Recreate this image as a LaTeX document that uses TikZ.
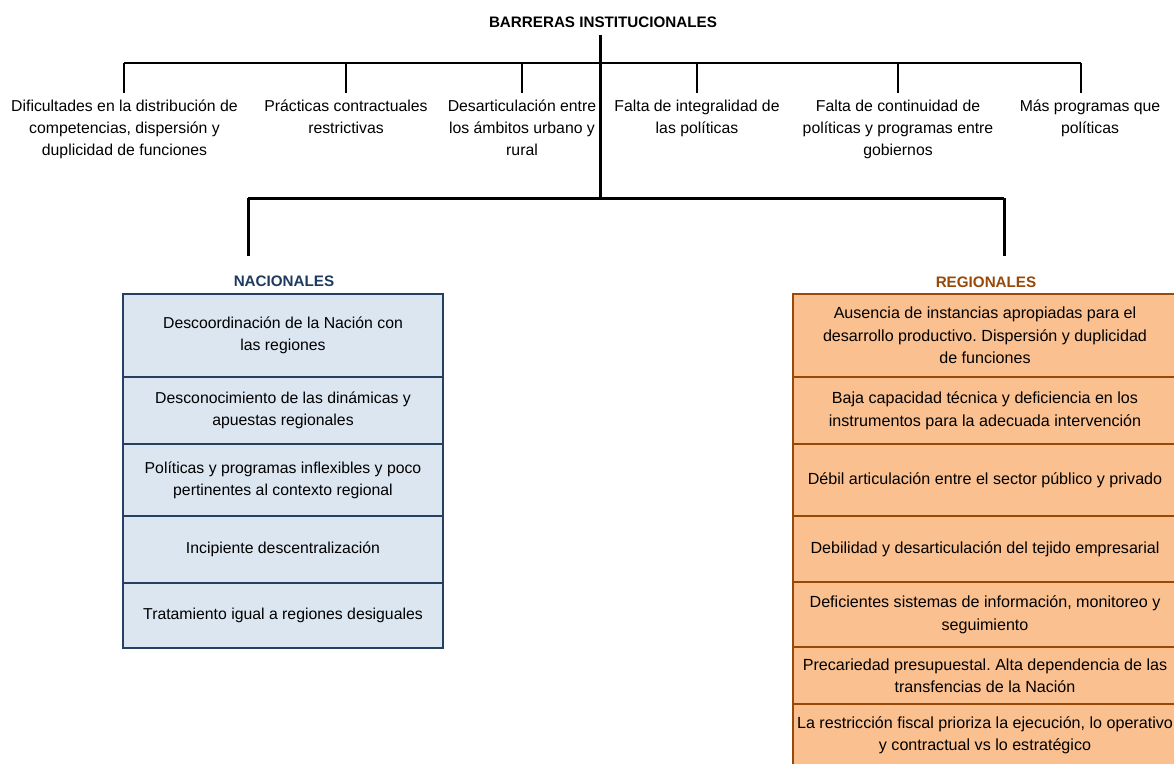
\documentclass[tikz,border=0pt]{standalone}
\usepackage{fontspec}
\setmainfont{Liberation Sans}
\frenchspacing
\definecolor{navyline}{HTML}{254061}
\definecolor{navytext}{HTML}{1F3A60}
\definecolor{bluefill}{HTML}{DCE6F1}
\definecolor{brownline}{HTML}{984807}
\definecolor{orangefill}{HTML}{FAC090}
\newcommand\ftop{\fontsize{15.8}{22}\selectfont}
\newcommand\fright{\fontsize{16.1}{22.5}\selectfont}
\newcommand\fhdr{\fontsize{15.2}{18}\selectfont\bfseries}
\begin{document}
\begin{tikzpicture}[x=1pt,y=-1pt,
  toptext/.style={font=\ftop, align=center, inner sep=0pt, anchor=base},
  hdr/.style={font=\fhdr, inner sep=0pt},
  thinlink/.style={line width=2pt, black},
  thicklink/.style={line width=3pt, black},
  nrow/.style={draw=navyline, line width=2pt, fill=bluefill, font=\ftop, align=center,
    inner sep=0pt, minimum width=320pt, minimum height=#1},
  rrow/.style={draw=brownline, line width=2pt, fill=orangefill, font=\fright, align=center,
    inner sep=0pt, minimum width=384pt, minimum height=#1}]
\useasboundingbox (0,0) rectangle (1174,763);

% title and trunk
\node[hdr] (title) at (603,22) {BARRERAS INSTITUCIONALES};
\coordinate (trunktop) at (600,35);
\coordinate (hub) at (600,198);

% top bar
\coordinate (b1) at (124,63);
\coordinate (b2) at (346,63);
\coordinate (b3) at (522,63);
\coordinate (b4) at (697,63);
\coordinate (b5) at (898,63);
\coordinate (b6) at (1081,63);
\coordinate (e1) at (124,93);
\coordinate (e2) at (346,93);
\coordinate (e3) at (522,93);
\coordinate (e4) at (697,93);
\coordinate (e5) at (898,93);
\coordinate (e6) at (1081,93);
\draw[thinlink] (b1) -- (b6);
\foreach \i in {1,...,6} {\draw[thinlink] (b\i) -- (e\i);}

% base anchor = baseline of last line (first baseline at y=111, line step 22)
\node[toptext] (d1) at (124.5,155) {Dificultades en la distribución de\\competencias, dispersión y\\duplicidad de funciones};
\node[toptext] (d2) at (346,133) {Prácticas contractuales\\restrictivas};
\node[toptext] (d3) at (522,155) {Desarticulación entre\\los ámbitos urbano y\\rural};
\node[toptext] (d4) at (697,133) {Falta de integralidad de\\las políticas};
\node[toptext] (d5) at (898,155) {Falta de continuidad de\\políticas y programas entre\\gobiernos};
\node[toptext] (d6) at (1090,133) {Más programas que\\políticas};

% lower branches
\coordinate (nl) at (248,198);
\coordinate (nr) at (1004,198);
\coordinate (nlend) at (248,256);
\coordinate (nrend) at (1004,256);
\draw[thicklink] (trunktop) -- (hub);
\draw[thicklink] (nl) -- (nr);
\draw[thicklink] (nl) -- (nlend);
\draw[thicklink] (nr) -- (nrend);

\node[hdr, text=navytext] (nac) at (284,281) {NACIONALES};
\node[hdr, text=brownline] (reg) at (986,282) {REGIONALES};

% national column
\node[nrow=83pt] (n1) at (283,335.5) {Descoordinación de la Nación con\\las regiones};
\node[nrow=67pt] (n2) at (283,410.5) {Desconocimiento de las dinámicas y\\apuestas regionales};
\node[nrow=72pt] (n3) at (283,480) {Políticas y programas inflexibles y poco\\pertinentes al contexto regional};
\node[nrow=67pt] (n4) at (283,549.5) {Incipiente descentralización};
\node[nrow=65pt] (n5) at (283,615.5) {Tratamiento igual a regiones desiguales};

% regional column
\node[rrow=83pt] (r1) at (985,335.5) {Ausencia de instancias apropiadas para el\\desarrollo productivo. Dispersión y duplicidad\\de funciones};
\node[rrow=67pt] (r2) at (985,410.5) {Baja capacidad técnica y deficiencia en los\\instrumentos para la adecuada intervención};
\node[rrow=72pt] (r3) at (985,480) {Débil articulación entre el sector público y privado};
\node[rrow=66pt] (r4) at (985,549) {Debilidad y desarticulación del tejido empresarial};
\node[rrow=65pt] (r5) at (985,614.5) {Deficientes sistemas de información, monitoreo y\\seguimiento};
\node[rrow=57pt] (r6) at (985,675.5) {Precariedad presupuestal. Alta dependencia de las\\transfencias de la Nación};
\node[rrow=62pt] (r7) at (985,735) {La restricción fiscal prioriza la ejecución, lo operativo\\y contractual vs lo estratégico};
\end{tikzpicture}
\end{document}
